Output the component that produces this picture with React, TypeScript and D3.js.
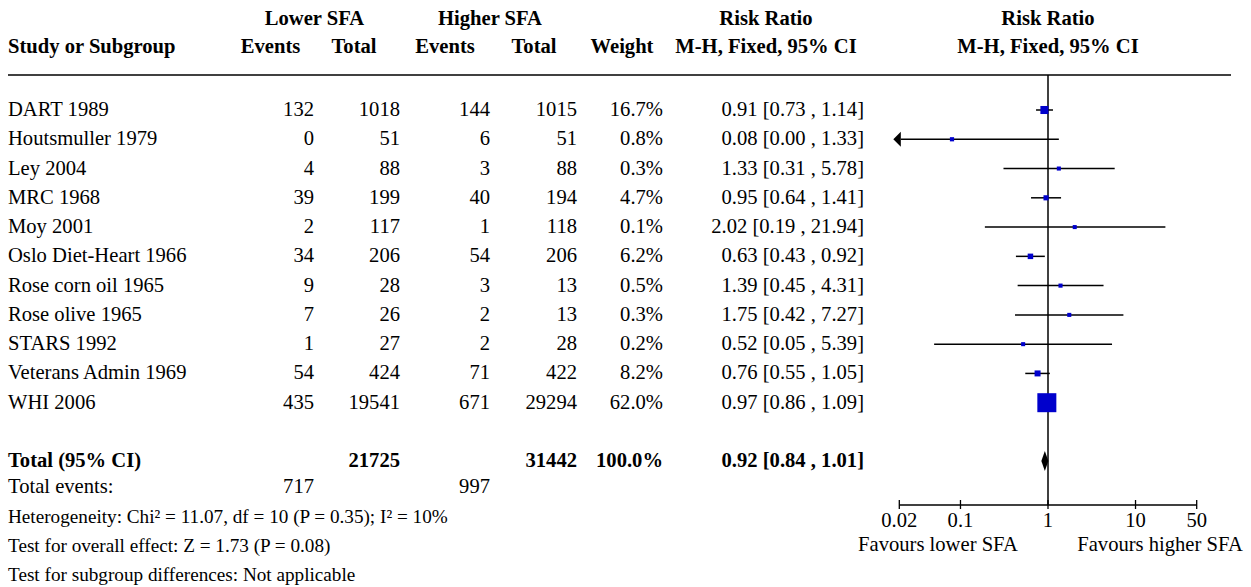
import React from "react";
import * as d3 from "d3";

const studies = ["DART 1989", "Houtsmuller 1979", "Ley 2004", "MRC 1968", "Moy 2001", "Oslo Diet-Heart 1966", "Rose corn oil 1965", "Rose olive 1965", "STARS 1992", "Veterans Admin 1969", "WHI 2006"];
const lowerEvents = [132, 0, 4, 39, 2, 34, 9, 7, 1, 54, 435];
const lowerTotal = [1018, 51, 88, 199, 117, 206, 28, 26, 27, 424, 19541];
const higherEvents = [144, 6, 3, 40, 1, 54, 3, 2, 2, 71, 671];
const higherTotal = [1015, 51, 88, 194, 118, 206, 13, 13, 28, 422, 29294];
const weights = [16.7, 0.8, 0.3, 4.7, 0.1, 6.2, 0.5, 0.3, 0.2, 8.2, 62.0];
const rr = [0.91, 0.08, 1.33, 0.95, 2.02, 0.63, 1.39, 1.75, 0.52, 0.76, 0.97];
const ciLow = [0.73, 0.0, 0.31, 0.64, 0.19, 0.43, 0.45, 0.42, 0.05, 0.55, 0.86];
const ciHigh = [1.14, 1.33, 5.78, 1.41, 21.94, 0.92, 4.31, 7.27, 5.39, 1.05, 1.09];

const totalRow = { label: "Total (95% CI)", lowerTotal: 21725, higherTotal: 31442, weight: "100.0%", rr: 0.92, lo: 0.84, hi: 1.01 };
const totalEvents = { label: "Total events:", lower: 717, higher: 997 };
const footnotes = [
  "Heterogeneity: Chi\u00B2 = 11.07, df = 10 (P = 0.35); I\u00B2 = 10%",
  "Test for overall effect: Z = 1.73 (P = 0.08)",
  "Test for subgroup differences: Not applicable",
];
const tickValues = [0.02, 0.1, 1, 10, 50];
const tickLabels = ["0.02", "0.1", "1", "10", "50"];
const favourLabels = ["Favours lower SFA", "Favours higher SFA"];

const FONT = "'Liberation Serif', 'Times New Roman', serif";
const FS = 20.6;
const FS_FOOT = 19.2;

export default function App() {
  const x = d3.scaleLog().domain([0.02, 50]).range([899.3, 1196.7]);
  const rowY = d3.scaleLinear().domain([0, 10]).range([110, 402.7]);
  const sizeScale = d3.scaleLinear().domain([0, 62]).range([4, 19]);
  const fmt = (v: number) => v.toFixed(2);
  const ciText = (r: number, l: number, h: number) => `${fmt(r)} [${fmt(l)} , ${fmt(h)}]`;

  const colLE = 314, colLT = 400, colHE = 490, colHT = 577, colW = 663, colRR = 864;
  const textOff = 6;
  const totalY = 461;
  const evY = 487;
  const footY = [516.5, 546, 575];
  const axisY = 505;
  const x1 = x(1);
  const xMin = x(0.02);

  const txt = (props: any, s: string | number, bold = false, fs = FS) => (
    <text {...props} fontFamily={FONT} fontSize={fs} fontWeight={bold ? "bold" : "normal"} fill="#000">{s}</text>
  );

  return (
    <svg width={1251} height={587} style={{ position: "absolute", left: 0, top: 0, background: "#fff" }}>
      <rect x={0} y={0} width={1251} height={587} fill="#fff" />
      {/* headers */}
      {txt({ x: 314.5, y: 25, textAnchor: "middle" }, "Lower SFA", true)}
      {txt({ x: 490, y: 25, textAnchor: "middle" }, "Higher SFA", true)}
      {txt({ x: 766, y: 25, textAnchor: "middle" }, "Risk Ratio", true)}
      {txt({ x: 1048, y: 25, textAnchor: "middle" }, "Risk Ratio", true)}
      {txt({ x: 8, y: 53 }, "Study or Subgroup", true)}
      {txt({ x: 270.5, y: 53, textAnchor: "middle" }, "Events", true)}
      {txt({ x: 354, y: 53, textAnchor: "middle" }, "Total", true)}
      {txt({ x: 445, y: 53, textAnchor: "middle" }, "Events", true)}
      {txt({ x: 534, y: 53, textAnchor: "middle" }, "Total", true)}
      {txt({ x: 622, y: 53, textAnchor: "middle" }, "Weight", true)}
      {txt({ x: 766, y: 53, textAnchor: "middle" }, "M-H, Fixed, 95% CI", true)}
      {txt({ x: 1048, y: 53, textAnchor: "middle" }, "M-H, Fixed, 95% CI", true)}
      <line x1={8} x2={1231} y1={75} y2={75} stroke="#000" strokeWidth={1.5} />

      {/* vertical line of no effect */}
      <line x1={x1} x2={x1} y1={75} y2={axisY} stroke="#000" strokeWidth={1.5} />

      {studies.map((s, i) => {
        const y = rowY(i);
        const ty = y + textOff;
        const lo = ciLow[i];
        const clipped = lo < 0.02;
        const xl = clipped ? xMin + 1.5 : x(lo);
        const xh = x(ciHigh[i]);
        const sz = sizeScale(weights[i]);
        return (
          <g key={s}>
            {txt({ x: 8, y: ty }, s)}
            {txt({ x: colLE, y: ty, textAnchor: "end" }, lowerEvents[i])}
            {txt({ x: colLT, y: ty, textAnchor: "end" }, lowerTotal[i])}
            {txt({ x: colHE, y: ty, textAnchor: "end" }, higherEvents[i])}
            {txt({ x: colHT, y: ty, textAnchor: "end" }, higherTotal[i])}
            {txt({ x: colW, y: ty, textAnchor: "end" }, `${weights[i].toFixed(1)}%`)}
            {txt({ x: colRR, y: ty, textAnchor: "end" }, ciText(rr[i], lo, ciHigh[i]))}
            <line x1={xl} x2={xh} y1={y} y2={y} stroke="#000" strokeWidth={1.5} />
            {clipped && (
              <path d={`M${xMin - 6},${y} L${xMin + 1.5},${y - 7.5} L${xMin + 1.5},${y + 7.5} Z`} fill="#000" />
            )}
            <rect x={x(rr[i]) - sz / 2} y={y - sz / 2} width={sz} height={sz} fill="#0000cc" />
          </g>
        );
      })}

      {/* total */}
      {txt({ x: 8, y: totalY + textOff }, totalRow.label, true)}
      {txt({ x: colLT, y: totalY + textOff, textAnchor: "end" }, totalRow.lowerTotal, true)}
      {txt({ x: colHT, y: totalY + textOff, textAnchor: "end" }, totalRow.higherTotal, true)}
      {txt({ x: colW, y: totalY + textOff, textAnchor: "end" }, totalRow.weight, true)}
      {txt({ x: colRR, y: totalY + textOff, textAnchor: "end" }, ciText(totalRow.rr, totalRow.lo, totalRow.hi), true)}
      <path
        d={`M${x(totalRow.lo)},${totalY} L${x(totalRow.rr)},${totalY - 10} L${x(totalRow.hi)},${totalY} L${x(totalRow.rr)},${totalY + 10} Z`}
        fill="#000"
      />

      {txt({ x: 8, y: evY + textOff }, totalEvents.label)}
      {txt({ x: colLE, y: evY + textOff, textAnchor: "end" }, totalEvents.lower)}
      {txt({ x: colHE, y: evY + textOff, textAnchor: "end" }, totalEvents.higher)}
      {footnotes.map((f, i) => (
        <g key={i}>{txt({ x: 8, y: footY[i] + textOff }, f, false, FS_FOOT)}</g>
      ))}

      {/* axis */}
      <line x1={xMin} x2={x(50)} y1={axisY} y2={axisY} stroke="#000" strokeWidth={1.3} />
      {tickValues.map((t, i) => (
        <g key={t}>
          <line x1={x(t)} x2={x(t)} y1={axisY - 5} y2={axisY + 4} stroke="#000" strokeWidth={1.3} />
          {txt({ x: x(t), y: 527, textAnchor: "middle" }, tickLabels[i])}
        </g>
      ))}
      {txt({ x: x1 - 110, y: 551, textAnchor: "middle" }, favourLabels[0])}
      {txt({ x: x1 + 112, y: 551, textAnchor: "middle" }, favourLabels[1])}
    </svg>
  );
}
